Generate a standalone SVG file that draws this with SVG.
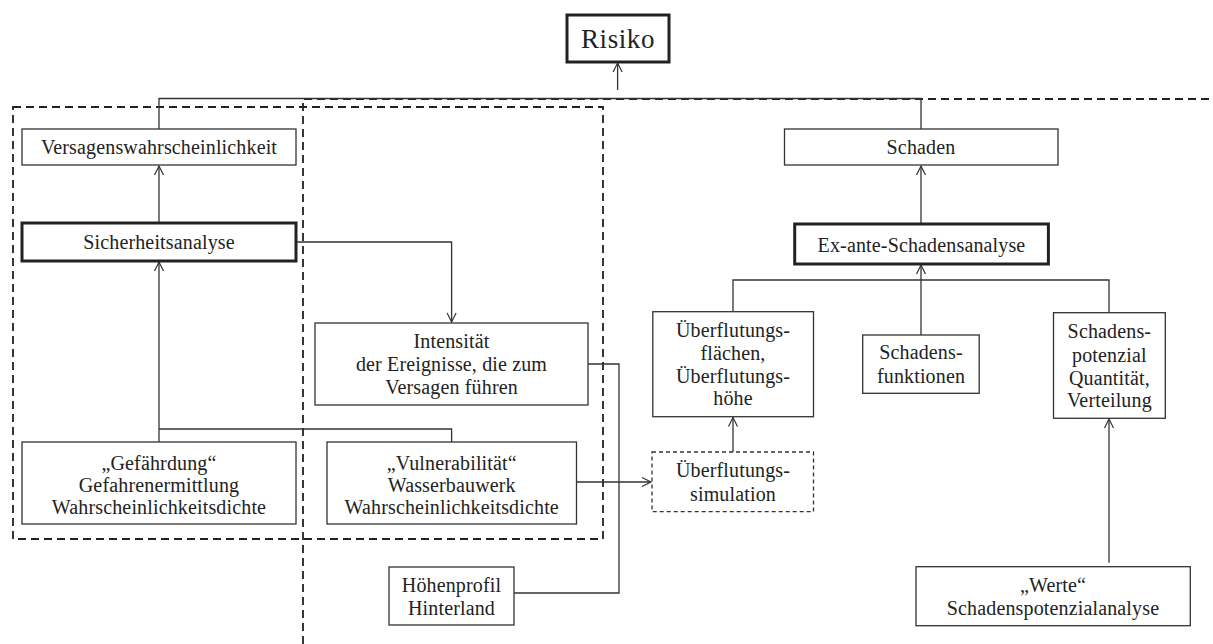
<svg xmlns="http://www.w3.org/2000/svg" width="1213" height="644" viewBox="0 0 1213 644">
<style>
.box{fill:#fff;stroke:#333;stroke-width:1.3}
.thick{fill:#fff;stroke:#222;stroke-width:3}
.dbox{fill:#fff;stroke:#333;stroke-width:1.3;stroke-dasharray:4 3}
.ln{fill:none;stroke:#333;stroke-width:1.3}
.dash{fill:none;stroke:#222;stroke-width:1.8;stroke-dasharray:8 5}
text{font-family:"Liberation Serif",serif;font-size:20px;fill:#222;text-anchor:middle;letter-spacing:0.15px}
.big{font-size:27px;letter-spacing:0.6px}
</style>
<defs>
<marker id="ah" markerWidth="12" markerHeight="12" refX="10" refY="6" orient="auto" markerUnits="userSpaceOnUse">
<path d="M1,1.5 L10,6 L1,10.5" fill="none" stroke="#333" stroke-width="1.2"/>
</marker>
</defs>
<g id="regions">
<rect class="dash" x="13" y="107" width="590" height="432"/>
<path class="dash" d="M303,644 L303,99 L1213,99"/>
</g>
<g id="connectors">
<line class="ln" x1="617.6" y1="90" x2="617.6" y2="63" marker-end="url(#ah)"/>
<path class="ln" d="M159,129 L159,98.5 L921,98.5 L921,129"/>
<line class="ln" x1="159" y1="223" x2="159" y2="166" marker-end="url(#ah)"/>
<path class="ln" d="M296,242 L451.6,242 L451.6,322" marker-end="url(#ah)"/>
<line class="ln" x1="159" y1="442" x2="159" y2="262" marker-end="url(#ah)"/>
<path class="ln" d="M159,429 L451.6,429 L451.6,442"/>
<path class="ln" d="M588,364 L619,364 L619,593 L514,593"/>
<line class="ln" x1="576.5" y1="482" x2="651" y2="482" marker-end="url(#ah)"/>
<line class="ln" x1="921" y1="224" x2="921" y2="166" marker-end="url(#ah)"/>
<path class="ln" d="M733,311.7 L733,280 L1109,280 L1109,312.7"/>
<line class="ln" x1="921" y1="335" x2="921" y2="265" marker-end="url(#ah)"/>
<line class="ln" x1="733" y1="452" x2="733" y2="417.5" marker-end="url(#ah)"/>
<line class="ln" x1="1109" y1="562.7" x2="1109" y2="419" marker-end="url(#ah)"/>
</g>
<g id="risiko"><rect class="thick" x="567" y="15" width="102" height="47"/><text class="big" x="618" y="48.3">Risiko</text></g>
<g id="versagen"><rect class="box" x="22" y="129" width="274" height="36"/><text x="159" y="154">Versagenswahrscheinlichkeit</text></g>
<g id="sicherheit"><rect class="thick" x="22" y="223" width="274" height="38"/><text x="159" y="249.3">Sicherheitsanalyse</text></g>
<g id="intensitaet"><rect class="box" x="315" y="323" width="273" height="82"/><text x="451.5" y="348">Intensität</text><text x="451.5" y="371">der Ereignisse, die zum</text><text x="451.5" y="393.5">Versagen führen</text></g>
<g id="gefaehrdung"><rect class="box" x="22" y="442" width="274" height="82"/><text x="159" y="470">„Gefährdung“</text><text x="159" y="492">Gefahrenermittlung</text><text x="159" y="514">Wahrscheinlichkeitsdichte</text></g>
<g id="vulnerabilitaet"><rect class="box" x="327" y="442" width="249.5" height="82"/><text x="451.75" y="470">„Vulnerabilität“</text><text x="451.75" y="492">Wasserbauwerk</text><text x="451.75" y="514">Wahrscheinlichkeitsdichte</text></g>
<g id="hoehenprofil"><rect class="box" x="389" y="567" width="125" height="58"/><text x="451.5" y="592">Höhenprofil</text><text x="451.5" y="615">Hinterland</text></g>
<g id="schaden"><rect class="box" x="784.5" y="129" width="273.5" height="36"/><text x="921" y="154">Schaden</text></g>
<g id="exante"><rect class="thick" x="794.7" y="224" width="253.7" height="40"/><text x="921.5" y="251.7">Ex-ante-Schadensanalyse</text></g>
<g id="ueberflutungsflaechen"><rect class="box" x="652.8" y="311.7" width="160.7" height="105"/><text x="733" y="336.7">Überflutungs-</text><text x="733" y="360">flächen,</text><text x="733" y="382.7">Überflutungs-</text><text x="733" y="405">höhe</text></g>
<g id="schadensfunktionen"><rect class="box" x="862.7" y="335" width="116.5" height="58.3"/><text x="921" y="359">Schadens-</text><text x="921" y="382.7">funktionen</text></g>
<g id="schadenspotenzial"><rect class="box" x="1053.5" y="312.7" width="111.8" height="105.6"/><text x="1109.4" y="337.7">Schadens-</text><text x="1109.4" y="361.7">potenzial</text><text x="1109.4" y="385">Quantität,</text><text x="1109.4" y="407">Verteilung</text></g>
<g id="simulation"><rect class="dbox" x="652" y="452" width="161.5" height="59.7"/><text x="733" y="476.7">Überflutungs-</text><text x="733" y="501">simulation</text></g>
<g id="werte"><rect class="box" x="916" y="566.7" width="274.3" height="59"/><text x="1053" y="592">„Werte“</text><text x="1053" y="615">Schadenspotenzialanalyse</text></g>
</svg>
